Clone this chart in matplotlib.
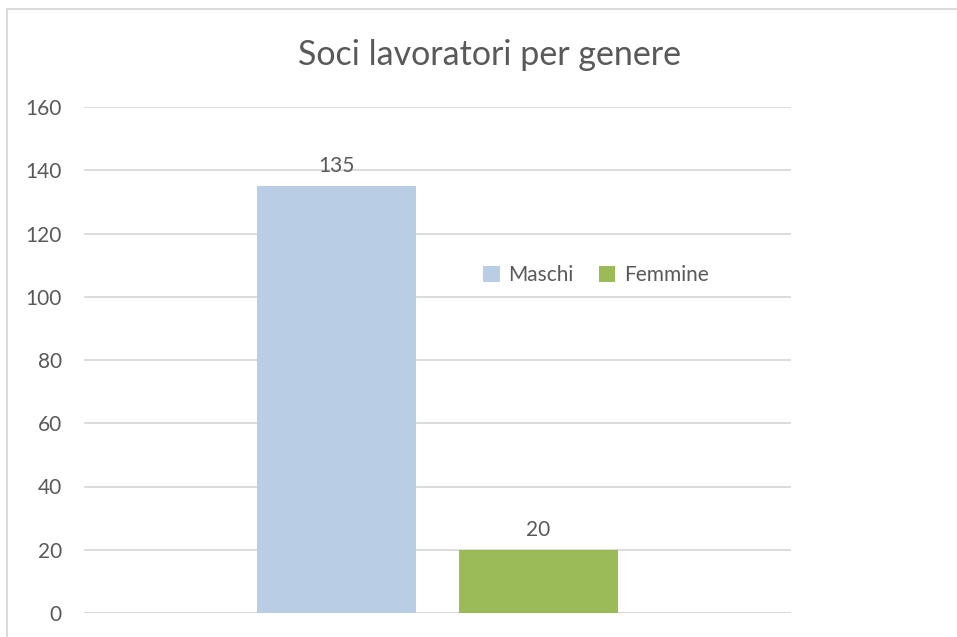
import matplotlib
matplotlib.use("Agg")
import matplotlib.pyplot as plt
from matplotlib.patches import Rectangle

series = ["Maschi", "Femmine"]
values = [135, 20]
colors = ["#B9CDE5", "#9BBB59"]
yticks = [0, 20, 40, 60, 80, 100, 120, 140, 160]
title = "Soci lavoratori per genere"

TXT = "#595959"
GRID = "#D9D9D9"
plt.rcParams["font.family"] = ["Lato", "DejaVu Sans"]

fig = plt.figure(figsize=(9.57, 6.37), dpi=100)
W, H = 957, 637

# outer chart border (only top/left visible in the crop)
fig.patches.append(Rectangle((6.5 / W, -0.1), 1.2, 1 - 8.5 / H + 0.1,
                             transform=fig.transFigure, fill=False,
                             ec=GRID, lw=1.3))

ax = fig.add_axes([84 / W, 1 - 613 / H, 707 / W, 506 / H])
offsets = [-0.1425, 0.1425]
bw = 0.225
for name, v, c, off in zip(series, values, colors, offsets):
    ax.bar(off, v, width=bw, color=c, label=name, zorder=2)
    ax.text(off, v + 3.2, str(v), ha="center", va="bottom",
            fontsize=15, color=TXT)

ax.set_xlim(-0.5, 0.5)
ax.set_ylim(0, 160)
ax.set_yticks(yticks)
ax.set_xticks([])
ax.yaxis.grid(True, color=GRID, lw=1.3, zorder=0)
ax.tick_params(axis="y", length=0, pad=16, labelsize=15, labelcolor=TXT)
for s in ax.spines.values():
    s.set_visible(False)
ax.axhline(0, color=GRID, lw=1.3, zorder=1)

fig.text(489 / W, 1 - 65 / H, title, ha="center", va="baseline",
         fontsize=24.5, color=TXT)

fig.legend(loc="center", bbox_to_anchor=(596 / W, 1 - 275 / H), ncol=2,
           frameon=False, fontsize=15, labelcolor=TXT, handlelength=0.8,
           handleheight=0.8, handletextpad=0.4, columnspacing=1.2)

fig.savefig("out.png", dpi=100)
